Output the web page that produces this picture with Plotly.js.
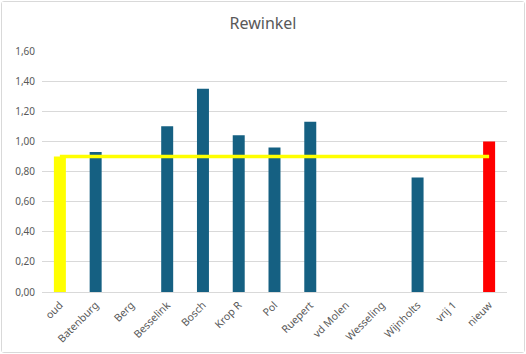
<!DOCTYPE html>
<html>
<head>
<meta charset="utf-8">
<script src="https://cdn.plot.ly/plotly-3.0.1.min.js"></script>
<style>
  html, body { margin: 0; padding: 0; background: #fff; }
  #chart { position: absolute; left: 1px; top: 1px; width: 522px; height: 350px; border: 1px solid #d9d9d9; border-radius: 3px; }
</style>
</head>
<body>
<div id="chart"></div>
<script>
const categories = ["oud", "Batenburg", "Berg", "Besselink", "Bosch", "Krop R", "Pol", "Ruepert", "vd Molen", "Wesseling", "Wijnholts", "vrij 1", "nieuw"];
const values = [0.90, 0.93, null, 1.10, 1.35, 1.04, 0.96, 1.13, null, null, 0.76, null, 1.00];
const referenceLine = [0.90, 0.90, 0.90, 0.90, 0.90, 0.90, 0.90, 0.90, 0.90, 0.90, 0.90, 0.90, 0.90];
const titleText = "Rewinkel";

const barColors = categories.map(c => c === "oud" ? "#FFFF00" : (c === "nieuw" ? "#FF0000" : "#156082"));

const data = [
  {
    type: "bar",
    x: categories,
    y: values,
    marker: { color: barColors },
    hoverinfo: "x+y"
  },
  {
    type: "scatter",
    mode: "lines",
    x: categories,
    y: referenceLine,
    line: { color: "#FFFF00", width: 3.5 },
    hoverinfo: "skip"
  }
];

const layout = {
  width: 522,
  height: 350,
  margin: { l: 40, r: 17, t: 49, b: 60 },
  paper_bgcolor: "#ffffff",
  plot_bgcolor: "#ffffff",
  showlegend: false,
  separators: ", ",
  font: { family: "Noto Sans, Open Sans, sans-serif", color: "#595959", size: 10 },
  title: { text: titleText, font: { size: 16, color: "#595959" }, x: 0.5, xanchor: "center", y: 0.94, yanchor: "middle" },
  bargap: 0.665,
  xaxis: {
    type: "category",
    tickangle: -45,
    tickfont: { size: 10.5, color: "#595959" },
    showgrid: false,
    zeroline: false,
    showline: false,
    ticks: "",
    ticklabelstandoff: 4
  },
  yaxis: {
    range: [0, 1.6],
    dtick: 0.2,
    tickformat: ".2f",
    tickfont: { size: 10, color: "#595959" },
    gridcolor: "#d9d9d9",
    gridwidth: 1,
    zeroline: true,
    zerolinecolor: "#d9d9d9",
    zerolinewidth: 1,
    showline: false,
    ticks: "",
    ticklabelstandoff: 6
  }
};

Plotly.newPlot("chart", data, layout, { staticPlot: true, displayModeBar: false });
</script>
</body>
</html>
